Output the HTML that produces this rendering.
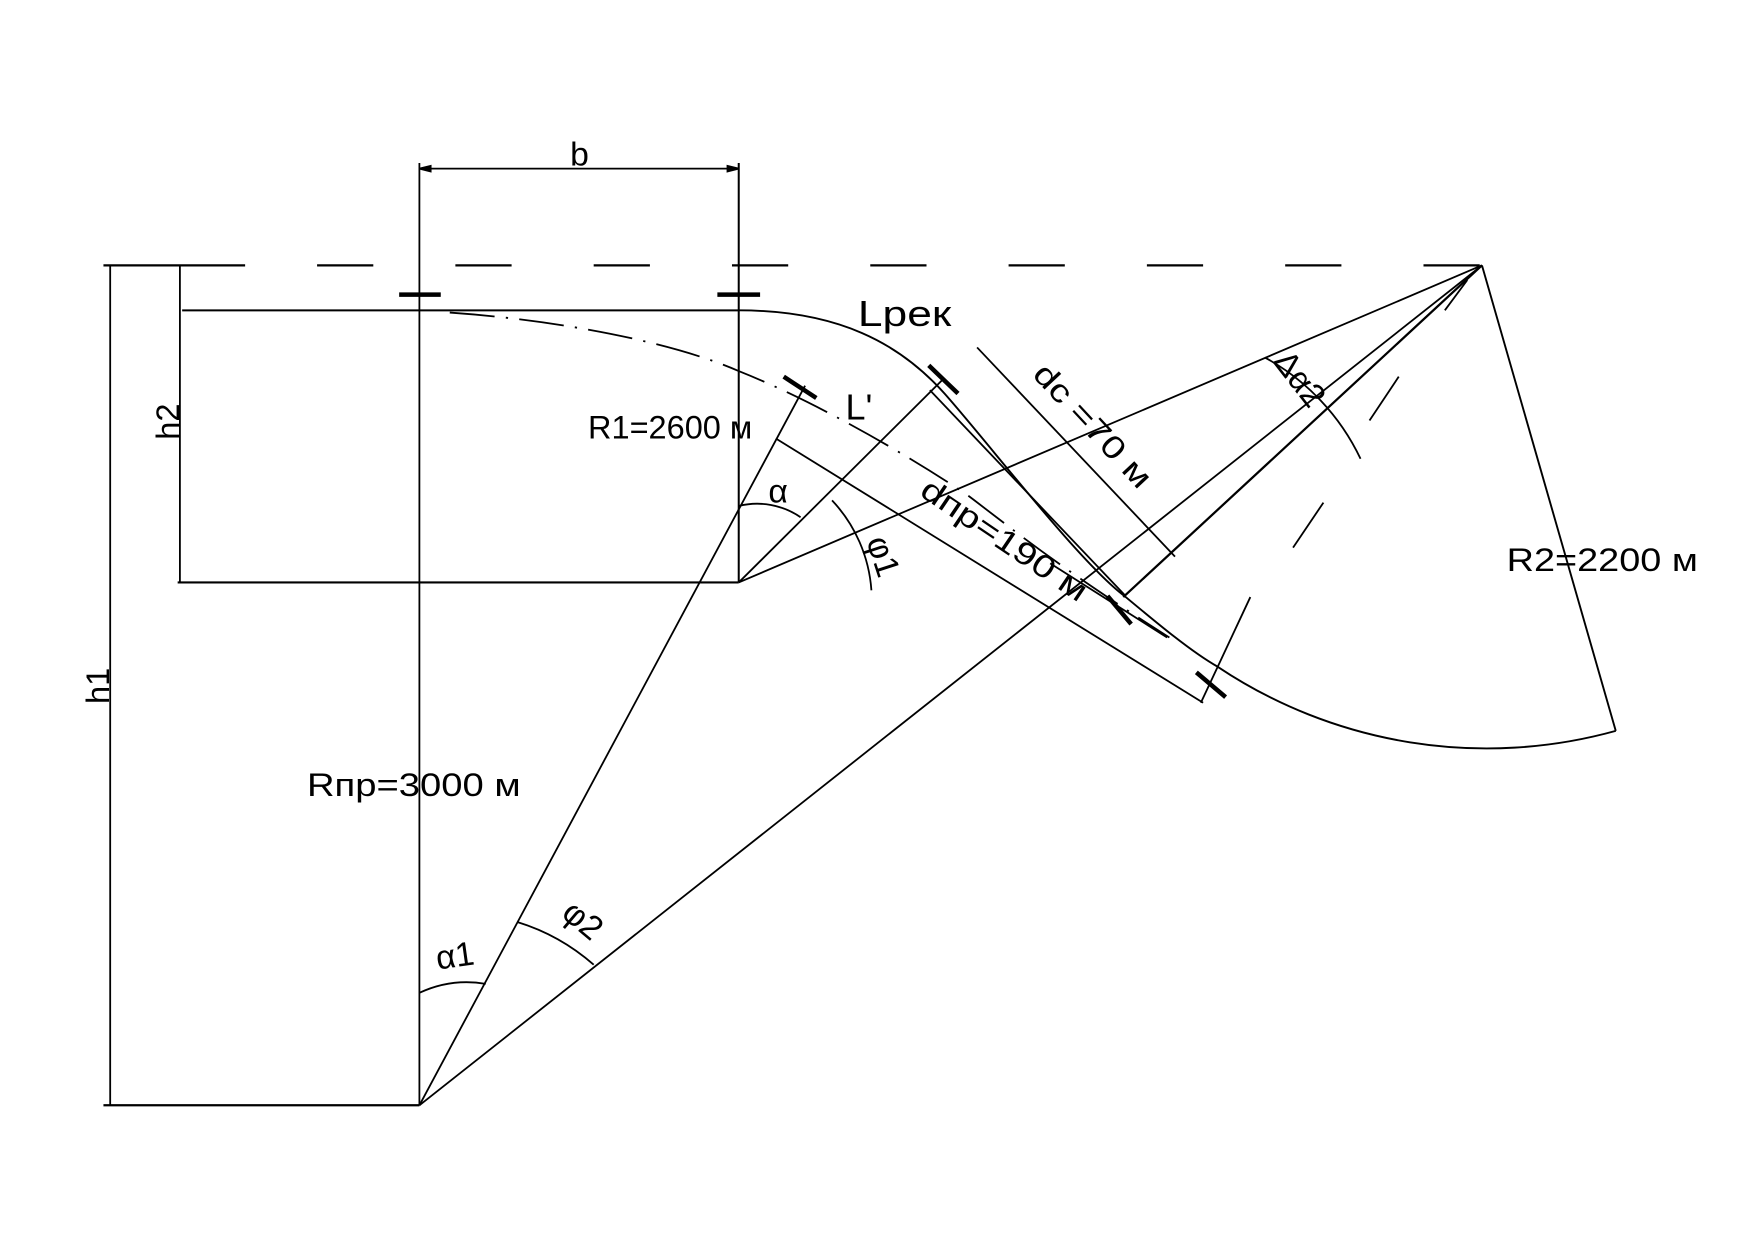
<!DOCTYPE html>
<html><head><meta charset="utf-8"><style>
html,body{margin:0;padding:0;background:#fff;}
svg{display:block;}
text{font-family:"Liberation Sans",sans-serif;fill:#000;}
</style></head><body>
<svg width="1754" height="1240" viewBox="0 0 1754 1240" xmlns="http://www.w3.org/2000/svg">
<rect width="1754" height="1240" fill="#fff"/>
<g transform="scale(1.1244)" stroke="#000" stroke-width="1.6" fill="none" stroke-linecap="butt">
<line x1="92" y1="236" x2="1318" y2="236" stroke-width="2" stroke-dasharray="126,64,50,73,50,73,50,73,50,73,50,73,50,73,50,73,50,73,50,73,60"/>
<line x1="98" y1="236" x2="98" y2="983"/>
<line x1="92" y1="983" x2="373" y2="983" stroke-width="2"/>
<line x1="160" y1="236" x2="160" y2="518"/>
<line x1="162" y1="276" x2="657" y2="276" stroke-width="1.8"/>
<line x1="158" y1="518" x2="657" y2="518" stroke-width="1.8"/>
<line x1="373" y1="145" x2="373" y2="983"/>
<line x1="657" y1="145" x2="657" y2="518" stroke-width="1.8"/>
<line x1="373" y1="150" x2="657" y2="150"/>
<path d="M373 150 l10 -2.5 v5 z M657 150 l-10 -2.5 v5 z" fill="#000"/>
<line x1="355" y1="262" x2="392" y2="262" stroke-width="4"/>
<line x1="638" y1="262" x2="676" y2="262" stroke-width="4"/>
<path d="M657 276 C745 276 800 305 840 350 C880 395 960 500 1000 530 C1030 555 1060 580 1083 593 A430 430 0 0 0 1437 650" stroke-width="1.7"/>
<line x1="1318" y1="236" x2="1437" y2="650" stroke-width="1.7"/>
<path d="M400 278 C500 285 600 305 657 330 C720 355 800 400 860 440 C900 470 935 500 1040 567" stroke-dasharray="40,10,2,10"/>
<line x1="373" y1="983" x2="716" y2="343"/>
<line x1="373" y1="983" x2="1318" y2="236"/>
<line x1="657" y1="518" x2="1318" y2="236"/>
<line x1="657" y1="518" x2="838" y2="338"/>
<line x1="1318" y1="236" x2="999" y2="531" stroke-width="2"/>
<line x1="1305" y1="249" x2="1285" y2="276"/>
<line x1="1244" y1="335" x2="1218" y2="374"/>
<line x1="1177" y1="447" x2="1150" y2="487"/>
<line x1="1112" y1="531" x2="1068" y2="625"/>
<line x1="827" y1="347" x2="1001" y2="530"/>
<line x1="869" y1="309" x2="1045" y2="495"/>
<line x1="690" y1="390" x2="1070" y2="625"/>
<line x1="934" y1="501" x2="1038" y2="567"/>
<line x1="697" y1="335" x2="726" y2="354" stroke-width="4"/>
<line x1="826" y1="325" x2="852" y2="350" stroke-width="4"/>
<line x1="985" y1="530" x2="1006" y2="555" stroke-width="4"/>
<line x1="1064" y1="598" x2="1090" y2="620" stroke-width="4"/>
<path d="M657 450 A68 68 0 0 1 712 460"/>
<path d="M740 445 A130 130 0 0 1 775 525"/>
<path d="M373 883 A100 100 0 0 1 432 875"/>
<path d="M460 820 A185 185 0 0 1 528 858"/>
<path d="M1125 318 A200 200 0 0 1 1210 408"/>
</g>
<g transform="scale(1.1244)">
<text x="507" y="147" font-size="30">b</text>
<text x="763" y="290" font-size="32" textLength="83" lengthAdjust="spacingAndGlyphs">Lрек</text>
<text x="752" y="373" font-size="32">L'</text>
<text x="523" y="390" font-size="29" textLength="146" lengthAdjust="spacingAndGlyphs">R1=2600 м</text>
<text x="273" y="708" font-size="29" textLength="190" lengthAdjust="spacingAndGlyphs">Rпр=3000 м</text>
<text x="1340" y="508" font-size="29" textLength="170" lengthAdjust="spacingAndGlyphs">R2=2200 м</text>
<text transform="translate(159,375) rotate(-90)" font-size="29" text-anchor="middle">h2</text>
<text transform="translate(97,610) rotate(-90)" font-size="29" text-anchor="middle">h1</text>
<text transform="translate(965,385) rotate(47)" font-size="28" text-anchor="middle" textLength="140" lengthAdjust="spacingAndGlyphs">dc =70 м</text>
<text transform="translate(888,488) rotate(34)" font-size="28" text-anchor="middle" textLength="172" lengthAdjust="spacingAndGlyphs">dпр=190 м</text>
<text transform="translate(1148,343) rotate(52)" font-size="30" text-anchor="middle">Δα2</text>
<text transform="translate(692,447)" font-size="30" text-anchor="middle">α</text>
<text transform="translate(776,498) rotate(72)" font-size="30" text-anchor="middle">φ1</text>
<text transform="translate(406,860) rotate(-8)" font-size="30" text-anchor="middle">α1</text>
<text transform="translate(512,826) rotate(40)" font-size="30" text-anchor="middle">φ2</text>
</g>
</svg>
</body></html>
